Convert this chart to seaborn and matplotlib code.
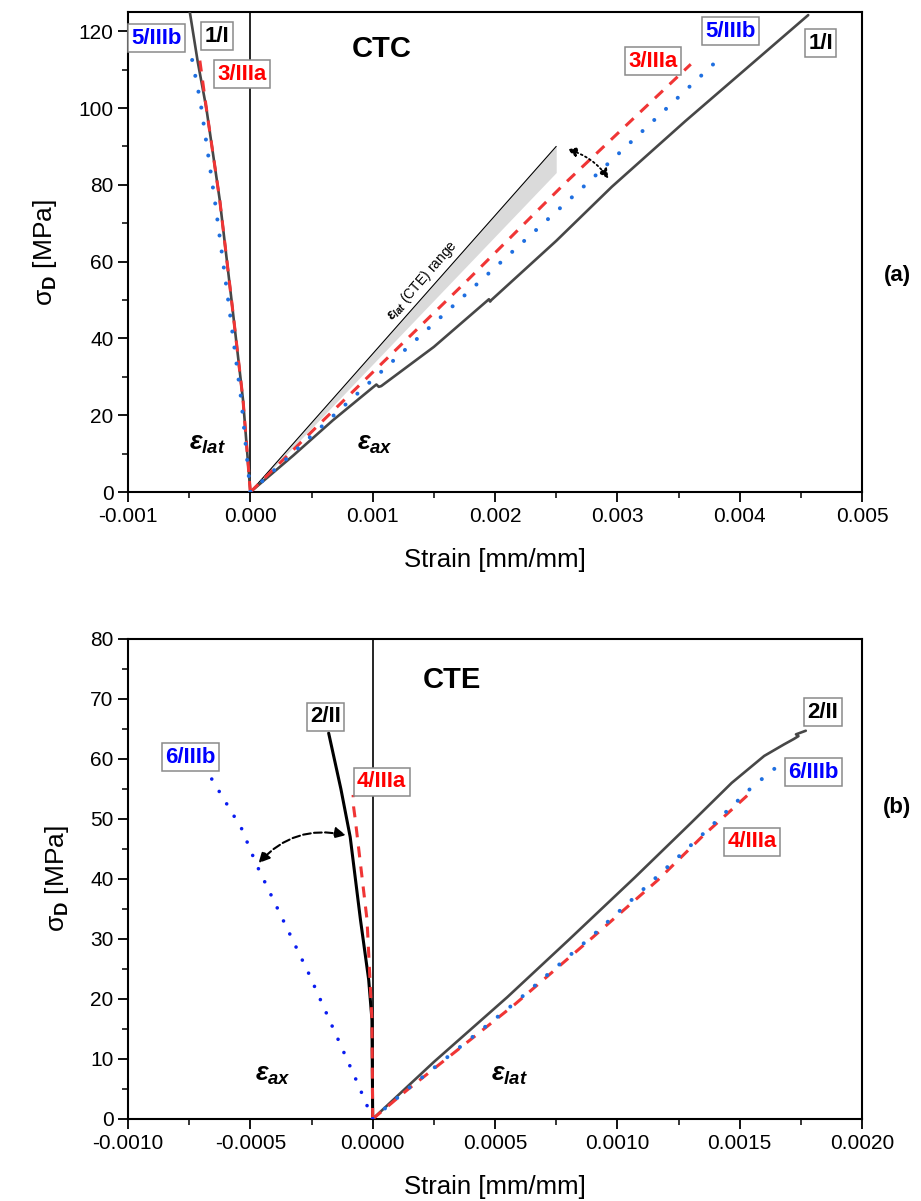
"""
Stress-strain curves for CTC (a) and CTE (b) tests.
"""

import numpy as np
import pandas as pd
import matplotlib
matplotlib.use("Agg")
import matplotlib.pyplot as plt
from matplotlib.ticker import AutoMinorLocator, FormatStrFormatter, MultipleLocator
import seaborn as sns

# ---- (a) CTC: lateral (negative) and axial (positive) branches ----
ctc_1_lat_strain = [0, -0.00006, -0.000154, -0.00025, -0.00036, -0.00043, -0.000495]
ctc_1_lat_stress = [0, 24, 50, 76, 100, 112, 125]
ctc_1_ax_strain = [0, 0.00035, 0.000675, 0.00103, 0.00105, 0.00107, 0.0015, 0.00195,
                   0.00196, 0.00197, 0.0025, 0.002955, 0.003556, 0.0040, 0.00456]
ctc_1_ax_stress = [0, 9.5, 18.7, 28.0, 27.4, 27.6, 37.8, 50.2, 49.6, 50.0, 65.4, 79.5,
                   96.6, 108.8, 124.2]

ctc_3_lat_strain = [0, -0.00006, -0.000154, -0.00025, -0.00036, -0.00042]
ctc_3_lat_stress = [0, 24, 50, 76, 100, 114]
ctc_3_ax_strain = [0, 0.0006, 0.00177, 0.002568, 0.0036]
ctc_3_ax_stress = [0, 18.8, 55, 80.3, 111.4]

ctc_5_lat_strain = [0, -0.000074, -0.000181, -0.00029, -0.000409, -0.000477]
ctc_5_lat_stress = [0, 23.9, 49.9, 75.8, 101.8, 112.7]
ctc_5_ax_strain = [0, 0.0014, 0.002757, 0.003827]
ctc_5_ax_stress = [0, 41, 80.5, 112.7]

# CTE lateral strain range band
band_strain = [0, 0.0025]
band_upper = [0, 90]
band_lower = [0, 83.2]

# ---- (b) CTE ----
cte_2_ax_strain = [0, -0.000003, -0.0000164, -0.00005, -0.000092, -0.00013, -0.00018]
cte_2_ax_stress = [0, 16.5, 23.2, 33.2, 47, 55, 64.3]
cte_2_lat_strain = [0, 0.00025, 0.00055, 0.0008, 0.00107, 0.0013, 0.001467, 0.0016,
                    0.00168, 0.00172, 0.00174, 0.00173, 0.00177]
cte_2_lat_stress = [0, 9.5, 20.3, 29.8, 40.2, 49.3, 56.0, 60.5, 62.4, 63.3, 63.8, 64.1, 64.7]

cte_4_ax_strain = [0, -0.000003, -0.0000232, -0.0000709, -0.000078, -0.00008]
cte_4_ax_stress = [0, 16.5, 33.2, 49.8, 52, 54]
cte_4_lat_strain = [0, 0.00014, 0.000578, 0.0009, 0.001165, 0.00135, 0.001555]
cte_4_lat_stress = [0, 4.8, 19, 30.3, 39.8, 47.2, 54.8]

cte_6_ax_strain = [0, -0.0000643, -0.000262, -0.000474, -0.000536, -0.00066]
cte_6_ax_stress = [0, 6.2, 24.3, 42.3, 48.4, 56.8]
cte_6_lat_strain = [0, 0.00014, 0.00058, 0.0009, 0.00116, 0.00135, 0.00155, 0.00167]
cte_6_lat_stress = [0, 4.9, 19.3, 30.6, 40.3, 47.5, 55.3, 59.3]

# ---- labels: (text, colour, strain, stress) ----
ctc_labels = [
    ("5/IIIb", "blue", -0.000765, 118.2),
    ("1/I", "black", -0.000272, 118.7),
    ("3/IIIa", "red", -0.000066, 108.8),
    ("3/IIIa", "red", 0.00329, 112.2),
    ("5/IIIb", "blue", 0.003926, 120.0),
    ("1/I", "black", 0.00466, 116.9),
]
cte_labels = [
    ("2/II", "black", -0.000193, 67.0),
    ("6/IIIb", "blue", -0.000746, 60.3),
    ("4/IIIa", "red", 0.0000369, 56.2),
    ("2/II", "black", 0.00184, 67.8),
    ("6/IIIb", "blue", 0.0018, 57.8),
    ("4/IIIa", "red", 0.00155, 46.2),
]

GRAY = "#474747"
RED = "#f03535"
BLUE = "#1f6fe0"

sns.set_theme(style="ticks")
plt.rcParams["font.family"] = ["Liberation Sans", "DejaVu Sans"]
plt.rcParams["text.color"] = "black"
plt.rcParams["axes.labelcolor"] = "black"
plt.rcParams["mathtext.fontset"] = "custom"
plt.rcParams["mathtext.rm"] = "Liberation Sans"
plt.rcParams["mathtext.it"] = "Liberation Sans:italic:bold"
plt.rcParams["mathtext.bf"] = "Liberation Sans:bold"


def draw(ax, x, y, kind, color, lw=None):
    df = pd.DataFrame({"strain": x, "stress": y})
    styles = {
        "solid": dict(linestyle="-", linewidth=lw or 1.9),
        "dash": dict(linestyle=(0, (3.6, 3.0)), linewidth=lw or 2.2),
        "dot": dict(linestyle=(0, (0.01, 4.0)), linewidth=lw or 2.9,
                    dash_capstyle="round"),
    }
    sns.lineplot(data=df, x="strain", y="stress", ax=ax, color=color, sort=False,
                 estimator=None, zorder=3, **styles[kind])


def add_labels(ax, labels):
    for text, color, x, y in labels:
        ax.text(x, y, text, color=color, fontsize=16, fontweight="bold",
                ha="center", va="center", zorder=6,
                bbox=dict(boxstyle="square,pad=0.15", fc="white", ec="#8a8a8a", lw=1.1))


def style_axes(ax, xfmt, ymajor):
    for side in ax.spines.values():
        side.set_linewidth(1.5)
        side.set_color("black")
    ax.xaxis.set_minor_locator(AutoMinorLocator(2))
    ax.yaxis.set_major_locator(MultipleLocator(ymajor))
    ax.yaxis.set_minor_locator(AutoMinorLocator(2))
    ax.xaxis.set_major_formatter(FormatStrFormatter(xfmt))
    ax.yaxis.set_major_formatter(FormatStrFormatter("%d"))
    ax.tick_params(which="major", direction="out", length=7, width=1.3, labelsize=15,
                   colors="black")
    ax.tick_params(which="minor", direction="out", length=4, width=1.1, colors="black")
    ax.set_xlabel("Strain [mm/mm]", fontsize=18.5, labelpad=16)
    ax.set_ylabel(r"$\mathrm{\sigma}_\mathbf{D}$ [MPa]", fontsize=19, labelpad=14)


fig = plt.figure(figsize=(9.21, 12.01), dpi=100)
ax1 = fig.add_axes([0.139, 0.5903, 0.797, 0.3997])
ax2 = fig.add_axes([0.139, 0.0683, 0.797, 0.3997])

# ---------------- (a) CTC ----------------
ax1.fill_between(band_strain, band_lower, band_upper, color="#dadada", lw=0, zorder=1)
ax1.plot(band_strain, band_upper, color="black", lw=0.8, zorder=2)
ax1.axvline(0, color="black", lw=1.2, zorder=2)

draw(ax1, ctc_1_lat_strain, ctc_1_lat_stress, "solid", GRAY)
draw(ax1, ctc_1_ax_strain, ctc_1_ax_stress, "solid", GRAY)
draw(ax1, ctc_3_lat_strain, ctc_3_lat_stress, "dash", RED)
draw(ax1, ctc_3_ax_strain, ctc_3_ax_stress, "dash", RED)
draw(ax1, ctc_5_lat_strain, ctc_5_lat_stress, "dot", BLUE)
draw(ax1, ctc_5_ax_strain, ctc_5_ax_stress, "dot", BLUE)

ax1.set_xlim(-0.001, 0.005)
ax1.set_ylim(0, 125)
style_axes(ax1, "%.3f", 20)

ax1.text(0.00107, 115.3, "CTC", fontsize=21, fontweight="bold", ha="center", va="center")
ax1.text(-0.000354, 12.5, r"$\varepsilon_{lat}$", fontsize=19, ha="center", va="center")
ax1.text(0.00102, 12.5, r"$\varepsilon_{ax}$", fontsize=19, ha="center", va="center")
ax1.text(0.0014, 55, r"$\varepsilon_{lat}$ (CTE) range", fontsize=10, rotation=49,
         ha="center", va="center")
ax1.annotate("", xy=(0.002568, 89.4), xytext=(0.00294, 81),
             arrowprops=dict(arrowstyle="<|-|>", color="black", lw=1.3, ls=":",
                             connectionstyle="arc3,rad=0.2", mutation_scale=14))
add_labels(ax1, ctc_labels)

# ---------------- (b) CTE ----------------
ax2.axvline(0, color="black", lw=1.2, zorder=2)
draw(ax2, cte_2_lat_strain, cte_2_lat_stress, "solid", GRAY)
draw(ax2, cte_2_ax_strain, cte_2_ax_stress, "solid", "black", lw=2.2)
draw(ax2, cte_4_lat_strain, cte_4_lat_stress, "dash", RED)
draw(ax2, cte_4_ax_strain, cte_4_ax_stress, "dash", RED)
draw(ax2, cte_6_lat_strain, cte_6_lat_stress, "dot", BLUE)
draw(ax2, cte_6_ax_strain, cte_6_ax_stress, "dot", "#0a1cf0", lw=2.6)

ax2.set_xlim(-0.001, 0.002)
ax2.set_ylim(0, 80)
style_axes(ax2, "%.4f", 10)

ax2.text(0.000324, 73.2, "CTE", fontsize=21, fontweight="bold", ha="center", va="center")
ax2.text(-0.000406, 7.3, r"$\varepsilon_{ax}$", fontsize=19, ha="center", va="center")
ax2.text(0.000557, 7.3, r"$\varepsilon_{lat}$", fontsize=19, ha="center", va="center")
ax2.annotate("", xy=(-0.000474, 42.3), xytext=(-0.0000984, 47.2),
             arrowprops=dict(arrowstyle="<|-|>", color="black", lw=1.5, ls="--",
                             connectionstyle="arc3,rad=0.3", mutation_scale=16))
add_labels(ax2, cte_labels)

fig.text(0.974, 1 - 275 / 1201, "(a)", fontsize=16, fontweight="bold", ha="center", va="center")
fig.text(0.974, 1 - 808 / 1201, "(b)", fontsize=16, fontweight="bold", ha="center", va="center")

fig.savefig("out.png", dpi=100)
